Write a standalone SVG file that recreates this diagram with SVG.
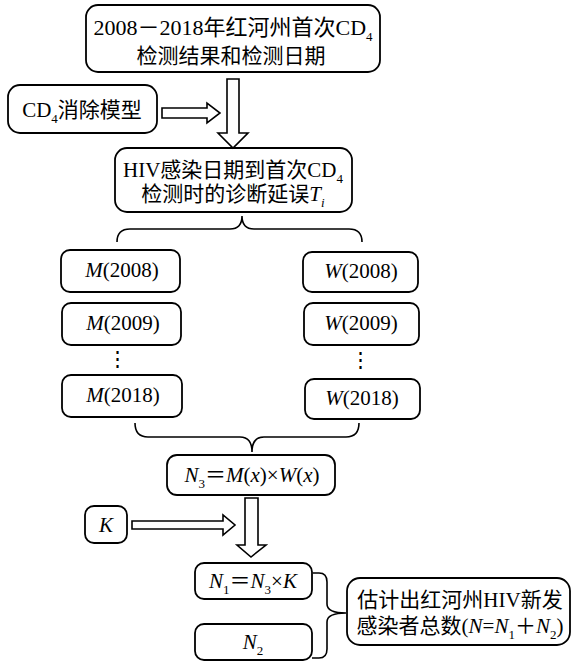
<svg xmlns="http://www.w3.org/2000/svg" width="573" height="662" viewBox="0 0 573 662">
<style>
.box{fill:#fff;stroke:#000;stroke-width:1.8}
.arr{fill:#fff;stroke:#000;stroke-width:1.6;stroke-linejoin:miter}
.br{fill:none;stroke:#000;stroke-width:1.6}
text{font-family:"Liberation Serif","Noto Sans CJK SC",serif;font-size:21px;fill:#000;text-anchor:middle}
.i{font-style:italic}
.s{font-size:13px}
</style>
<rect width="573" height="662" fill="#fff"/>
<g id="n_top">
<rect class="box" x="86" y="5" width="294" height="67" rx="12"/>
<text x="233" y="35" style="font-size:22px">2008－2018年红河州首次CD<tspan class="s" dy="6">4</tspan></text>
<text x="231" y="63">检测结果和检测日期</text>
</g>
<g id="n_cd4">
<rect class="box" x="8" y="85" width="149" height="48" rx="12"/>
<text x="82" y="117">CD<tspan class="s" dy="6">4</tspan><tspan dy="-6">消除模型</tspan></text>
</g>
<g id="n_hiv">
<rect class="box" x="115" y="148" width="237" height="64" rx="12"/>
<text x="233" y="177">HIV感染日期到首次CD<tspan class="s" dy="6">4</tspan></text>
<text x="233" y="201">检测时的诊断延误<tspan class="i">T</tspan><tspan class="s i" dy="6">i</tspan></text>
</g>
<g id="n_m2008">
<rect class="box" x="61" y="250" width="119" height="42" rx="9"/>
<text x="122" y="277"><tspan class="i">M</tspan>(2008)</text>
</g>
<g id="n_m2009">
<rect class="box" x="62" y="303" width="119" height="42" rx="9"/>
<text x="123" y="330"><tspan class="i">M</tspan>(2009)</text>
</g>
<g id="n_mdots">
<text x="117" y="366">⋮</text>
</g>
<g id="n_m2018">
<rect class="box" x="62" y="375" width="120" height="42" rx="9"/>
<text x="123" y="402"><tspan class="i">M</tspan>(2018)</text>
</g>
<g id="n_w2008">
<rect class="box" x="303" y="252" width="115" height="40" rx="9"/>
<text x="361" y="278"><tspan class="i">W</tspan>(2008)</text>
</g>
<g id="n_w2009">
<rect class="box" x="304" y="303" width="115" height="42" rx="9"/>
<text x="361" y="330"><tspan class="i">W</tspan>(2009)</text>
</g>
<g id="n_wdots">
<text x="360" y="367">⋮</text>
</g>
<g id="n_w2018">
<rect class="box" x="305" y="379" width="115" height="40" rx="9"/>
<text x="362" y="405"><tspan class="i">W</tspan>(2018)</text>
</g>
<g id="n_n3">
<rect class="box" x="167" y="455" width="168" height="40" rx="10"/>
<text x="252" y="482"><tspan class="i">N</tspan><tspan class="s" dy="6">3</tspan><tspan dy="-6">＝</tspan><tspan class="i">M</tspan>(<tspan class="i">x</tspan>)×<tspan class="i">W</tspan>(<tspan class="i">x</tspan>)</text>
</g>
<g id="n_k">
<rect class="box" x="85" y="506" width="42" height="37" rx="9"/>
<text x="106" y="532" class="i">K</text>
</g>
<g id="n_n1">
<rect class="box" x="195" y="563" width="117" height="36" rx="9"/>
<text x="253" y="588"><tspan class="i">N</tspan><tspan class="s" dy="6">1</tspan><tspan dy="-6">＝</tspan><tspan class="i">N</tspan><tspan class="s" dy="6">3</tspan><tspan dy="-6">×</tspan><tspan class="i">K</tspan></text>
</g>
<g id="n_n2">
<rect class="box" x="195" y="624" width="117" height="36" rx="9"/>
<text x="253" y="649"><tspan class="i">N</tspan><tspan class="s" dy="6">2</tspan></text>
</g>
<g id="n_est">
<rect class="box" x="347" y="578" width="223" height="67" rx="13"/>
<text x="460" y="607">估计出红河州HIV新发</text>
<text x="460" y="633">感染者总数(<tspan class="i">N</tspan>=<tspan class="i">N</tspan><tspan class="s" dy="6">1</tspan><tspan dy="-6">＋</tspan><tspan class="i">N</tspan><tspan class="s" dy="6">2</tspan><tspan dy="-6">)</tspan></text>
</g>
<g id="connectors">
<polygon class="arr" points="227,79 239,79 239,133 248,133 233,148 218,133 227,133"/>
<polygon class="arr" points="162,108 207,108 207,103 220,113 207,123 207,118 162,118"/>
<polygon class="arr" points="132,521 223,521 223,515 235,525 223,535 223,529 132,529"/>
<polygon class="arr" points="245,498 258,498 258,545 266,545 251,557 237,545 245,545"/>
<path class="br" d="M117,242 Q117,229 130,229 L230,229 Q242,229 242,216 Q242,229 254,229 L349,229 Q362,229 362,242"/>
<path class="br" d="M135,423 Q135,437 148,437 L240,437 Q252,437 252,452 Q252,437 264,437 L346,437 Q359,437 359,423"/>
<path class="br" d="M313,573 L319,573 Q327,573 327,582 L327,604 Q327,613 346,613 Q327,613 327,622 L327,649 Q327,658 319,658 L312,658"/>
</g>
</svg>
